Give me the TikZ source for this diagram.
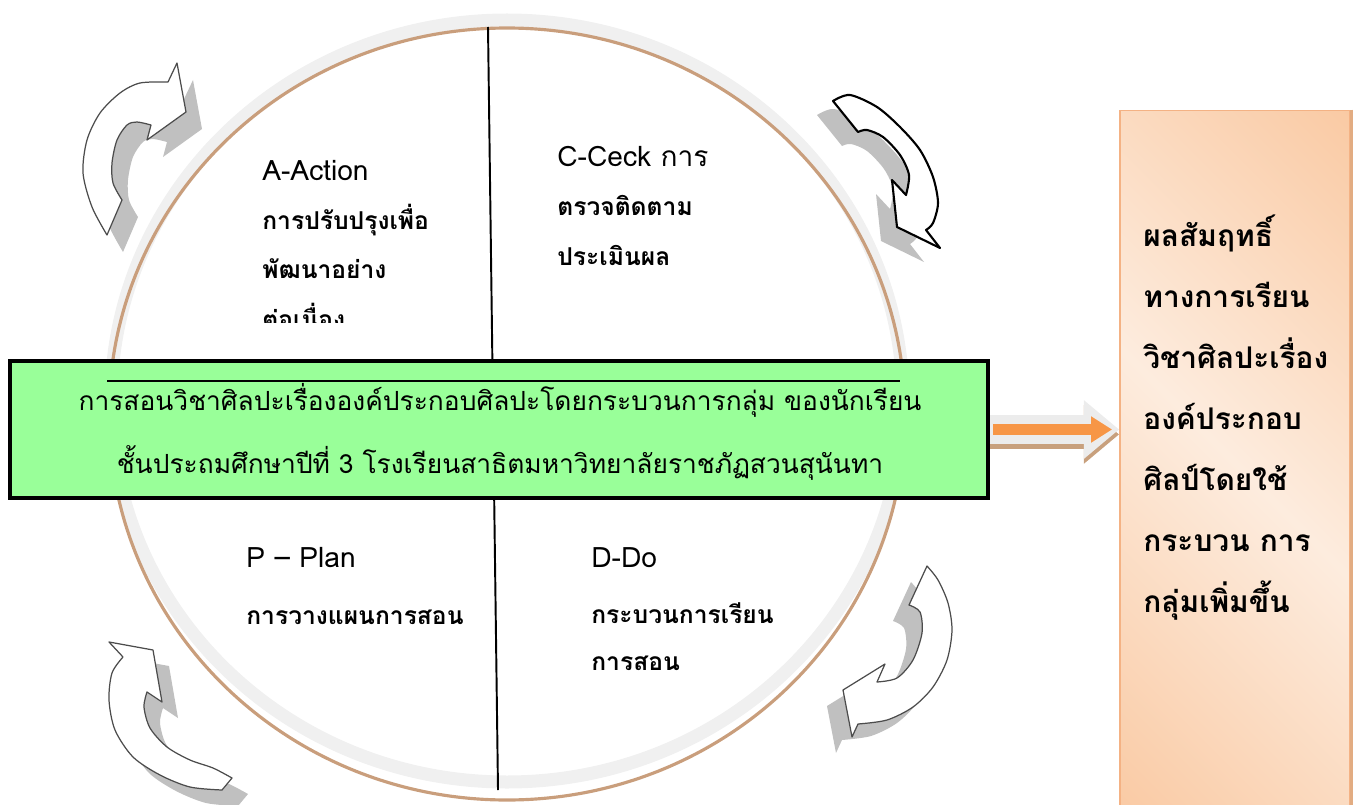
\documentclass[tikz,border=0pt]{standalone}
\usepackage{fontspec}
\setmainfont[Script=Thai]{Loma}
\usepackage{tikz}
\usetikzlibrary{arrows.meta, shadows}
\definecolor{ringgray}{RGB}{240,240,240}
\definecolor{rimbrown}{RGB}{201,158,124}
\definecolor{topicgreen}{RGB}{153,255,153}
\definecolor{arrowgray}{RGB}{236,236,236}
\definecolor{arrowtan}{RGB}{200,160,125}
\definecolor{arroworange}{RGB}{247,150,70}
\definecolor{resultorange}{RGB}{248,188,140}
\definecolor{resultlight}{RGB}{253,236,222}
\definecolor{resultedge}{RGB}{244,178,132}
\definecolor{resultdark}{RGB}{226,172,130}
\definecolor{turnshade}{RGB}{192,192,192}
\pgfdeclarehorizontalshading{resultshade}{100bp}{color(0bp)=(resultorange); color(50bp)=(resultlight); color(100bp)=(resultorange)}
\newcommand{\headfont}{\mdseries\fontsize{16}{28}\selectfont}
\tikzset{
  ring/.style={draw=ringgray, line width=7.4pt},
  rim/.style={draw=rimbrown, line width=1.8pt},
  quad/.style={anchor=base west, align=left, inner sep=0pt, font=\bfseries\fontsize{14}{28}\selectfont},
  turn/.style={fill=white, draw=black!70, line width=0.7pt, line join=round},
  linkouter/.style={draw=arrowgray, line width=16.5pt, -{Triangle[length=20pt, width=32pt]}},
  linkshadow/.style={linkouter, draw=arrowtan, transform canvas={yshift=-2.8pt}},
  linkinner/.style={draw=arroworange, line width=6.3pt, -{Triangle[length=12pt, width=14.2pt]}, shorten >=4pt, shorten <=1.7pt}
}

\begin{document}
\begin{tikzpicture}[x=0.2mm, y=-0.2mm]
\useasboundingbox (0,0) rectangle (1357,805);
% the cycle
\draw[ring] (507,401) ellipse [x radius=396, y radius=381];
\draw[rim] (507,414) ellipse [x radius=398, y radius=386];
\draw[line width=1.1pt] (488,27) -- (498,790);
\begin{scope}
\clip (0,0) rectangle (1357,322);
\node[quad] (act) at (262,328) {{\headfont A-Action}\\ การปรับปรุงเพื่อ\\ พัฒนาอย่าง\\ ต่อเนื่อง};
\end{scope}
\node[quad] (chk) at (557,265) {{\headfont C-Ceck การ}\\ ตรวจติดตาม\\ ประเมินผล};
\node[quad] (pln) at (246,624) {{\headfont P -- Plan}\\[4pt] การวางแผนการสอน};
\node[quad] (doo) at (591,670) {{\headfont D-Do}\\[4pt] กระบวนการเรียน\\[-1.5pt] การสอน};
% topic box
\node[draw=black, line width=2.3pt, fill=topicgreen, minimum width=195.6mm, minimum height=27.4mm] (topic) at (499,429.5) {};
\draw[line width=1.1pt] (107,381) -- (900,381);
\node[anchor=base, align=center, inner sep=0pt, font=\fontsize{15}{35.8}\selectfont] (topicline) at (500,473)
  {การสอนวิชาศิลปะเรื่ององค์ประกอบศิลปะโดยกระบวนการกลุ่ม ของนักเรียน\\ ชั้นประถมศึกษาปีที่ 3 โรงเรียนสาธิตมหาวิทยาลัยราชภัฏสวนสุนันทา};
% result box
\node[draw=resultedge, line width=1pt, shading=resultshade, shading angle=45, minimum width=46mm, minimum height=141mm] (result) at (1235,463) {};
\draw[resultdark, line width=1.6pt] ([xshift=0.4pt]result.north east) -- ([xshift=0.4pt]result.south east);
\node[anchor=base west, align=left, inner sep=0pt, font=\bfseries\fontsize{17}{34.7}\selectfont] (resulttext) at (1143,612)
  {ผลสัมฤทธิ์\\ ทางการเรียน\\ วิชาศิลปะเรื่อง\\ องค์ประกอบ\\ ศิลป์โดยใช้\\ กระบวน การ\\ กลุ่มเพิ่มขึ้น};
\draw[linkshadow] (topic.east) -- (result.west |- topic.east);
\draw[linkouter] (topic.east) -- (result.west |- topic.east);
\draw[linkinner] (topic.east) -- (result.west |- topic.east);
% turning arrows
\draw[turn, drop shadow={shadow xshift=3.2mm, shadow yshift=-3.4mm, fill=turnshade, opacity=1}]
  plot[smooth] coordinates {(107,235) (92,207) (83,173) (87,140) (100,113) (120,93) (140,83) (168,82)}
  -- (177,63) -- (186,112) -- (147,140) -- (151,125)
  -- plot[smooth] coordinates {(151,125) (137,122) (127,125) (117,140) (112,163) (113,183) (122,200)} -- cycle;
\draw[turn, draw=black, line width=1.2pt, drop shadow={shadow xshift=-3.2mm, shadow yshift=-2.8mm, fill=turnshade, opacity=1}]
  plot[smooth] coordinates {(833,101) (850,95) (877,107) (900,127) (920,150) (933,177) (938,203) (933,223) (926,230)}
  -- (940,248) -- (897,227) -- (892,180) -- (906,195)
  -- plot[smooth] coordinates {(906,195) (909,175) (900,155) (883,137) (867,130) (858,132)} -- cycle;
\draw[turn, drop shadow={shadow xshift=-3.2mm, shadow yshift=-3.2mm, fill=turnshade, opacity=1}]
  plot[smooth] coordinates {(927,566) (938,580) (948,603) (952,630) (947,660) (933,687) (913,707) (887,720) (858,724)}
  -- (852,737) -- (843,690) -- (885,664) -- (877,682)
  -- plot[smooth] coordinates {(877,682) (897,678) (913,660) (922,633) (920,612) (909,605)} -- cycle;
\draw[turn, drop shadow={shadow xshift=3.2mm, shadow yshift=-3.2mm, fill=turnshade, opacity=1}]
  (109,642) -- (153,650) -- (162,702) -- (147,692)
  -- plot[smooth] coordinates {(147,692) (144,707) (150,728) (167,747) (190,760) (213,768) (232,778)}
  -- plot[smooth] coordinates {(222,790) (190,787) (160,775) (133,757) (115,730) (109,700) (112,673) (123,657)} -- cycle;
\end{tikzpicture}
\end{document}
